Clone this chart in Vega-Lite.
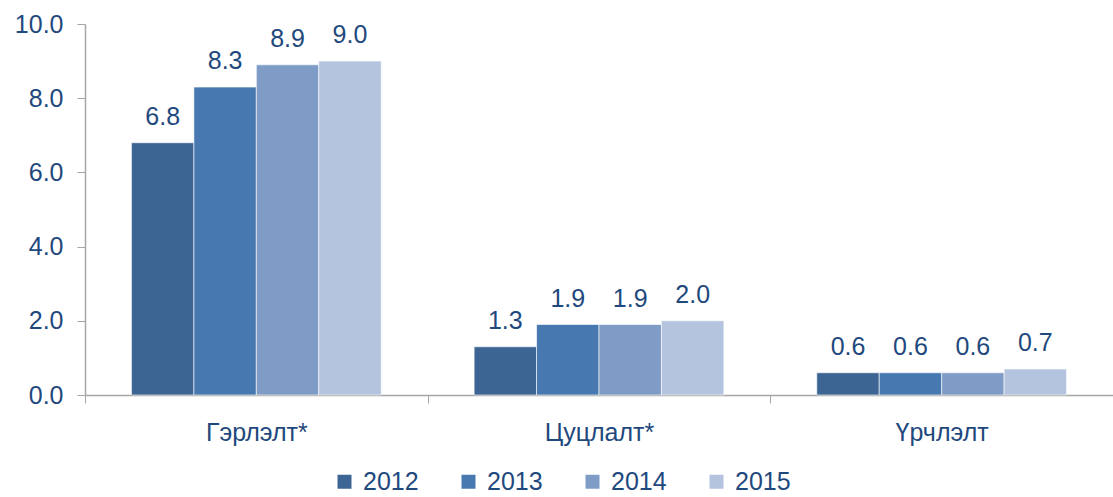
{
  "$schema": "https://vega.github.io/schema/vega-lite/v6.json",
  "width": 1028,
  "height": 371,
  "autosize": {"type": "none"},
  "padding": {"left": 85, "top": 24, "right": 0, "bottom": 102},
  "background": "white",
  "config": {
    "view": {"stroke": null},
    "font": "Liberation Sans",
    "axis": {"labelFont": "Liberation Sans", "labelColor": "#1F497D", "labelFontSize": 25, "domainColor": "#A6A6A6", "tickColor": "#A6A6A6", "grid": false},
    "legend": {"labelFont": "Liberation Sans", "labelColor": "#1F497D", "labelFontSize": 25}
  },
  "data": {
    "values": [
      {"category": "Гэрлэлт*", "year": "2012", "value": 6.8},
      {"category": "Гэрлэлт*", "year": "2013", "value": 8.3},
      {"category": "Гэрлэлт*", "year": "2014", "value": 8.9},
      {"category": "Гэрлэлт*", "year": "2015", "value": 9.0},
      {"category": "Цуцлалт*", "year": "2012", "value": 1.3},
      {"category": "Цуцлалт*", "year": "2013", "value": 1.9},
      {"category": "Цуцлалт*", "year": "2014", "value": 1.9},
      {"category": "Цуцлалт*", "year": "2015", "value": 2.0},
      {"category": "Үрчлэлт", "year": "2012", "value": 0.6},
      {"category": "Үрчлэлт", "year": "2013", "value": 0.6},
      {"category": "Үрчлэлт", "year": "2014", "value": 0.6},
      {"category": "Үрчлэлт", "year": "2015", "value": 0.7}
    ]
  },
  "encoding": {
    "x": {
      "field": "category", "type": "nominal", "sort": null, "title": null,
      "scale": {"paddingInner": 0, "paddingOuter": 0},
      "axis": {"labelAngle": 0, "tickBand": "extent", "tickSize": 8, "labelPadding": 17, "domainWidth": 1.5}
    },
    "xOffset": {
      "field": "year", "type": "nominal",
      "scale": {"paddingOuter": 0.744, "paddingInner": 0}
    },
    "y": {
      "field": "value", "type": "quantitative", "title": null,
      "scale": {"domain": [0, 10], "nice": false},
      "axis": {"values": [0, 2, 4, 6, 8, 10], "format": ".1f", "tickSize": 8, "labelPadding": 14, "domainWidth": 1.5}
    }
  },
  "layer": [
    {
      "mark": {"type": "bar", "stroke": "white", "strokeWidth": 0.6},
      "encoding": {
        "color": {
          "field": "year", "type": "nominal", "title": null,
          "scale": {"domain": ["2012", "2013", "2014", "2015"], "range": ["#3D6594", "#4878B0", "#7F9CC7", "#B4C3DE"]},
          "legend": {"orient": "none", "direction": "horizontal", "columns": 4, "legendX": 247, "legendY": 445, "symbolType": "square", "symbolSize": 196, "symbolStrokeWidth": 0, "columnPadding": 37, "labelOffset": 6}
        }
      }
    },
    {
      "mark": {"type": "text", "baseline": "alphabetic", "dy": -18, "fontSize": 25, "color": "#1F497D", "font": "Liberation Sans"},
      "encoding": {
        "text": {"field": "value", "type": "quantitative", "format": ".1f"}
      }
    }
  ]
}
